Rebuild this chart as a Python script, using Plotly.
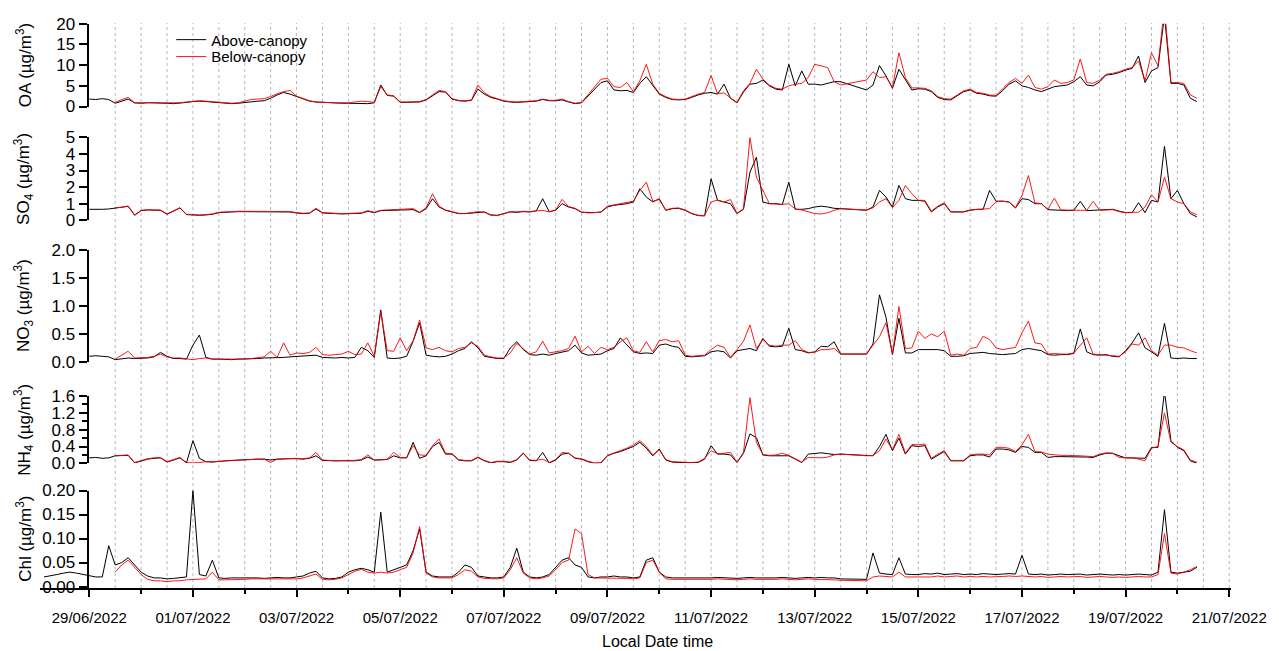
import pandas as pd
import plotly.graph_objects as go

# ---------------------------------------------------------------------------
# 3-hourly aerosol composition, above vs below the canopy
# (29/06/2022 00:00 onwards; None marks the instrument gap on 13/07)
# ---------------------------------------------------------------------------
oa_above = [
    1.8, 1.7, 1.9, 1.7, 0.8, 1.3, 1.8, 0.9,
    0.8, 0.9, 0.9, 0.8, 0.8, 0.7, 0.8, 1.0,
    1.2, 1.3, 1.2, 1.1, 1.0, 0.8, 0.7, 0.8,
    1.0, 1.2, 1.3, 1.4, 2.0, 2.8, 3.4, 3.0,
    2.4, 1.8, 1.3, 1.1, 1.0, 0.9, 0.9, 0.8,
    0.8, 0.8, 0.8, 0.7, 0.9, 5.2, 2.7, 2.5,
    1.0, 1.0, 1.1, 1.1, 1.6, 2.5, 3.6, 3.5,
    1.8, 1.4, 1.3, 1.5, 4.2, 3.0, 2.2, 1.8,
    1.3, 1.1, 1.0, 1.1, 1.2, 1.3, 1.7, 1.4,
    1.4, 1.6, 1.1, 0.7, 0.9, 2.6, 4.2, 5.8,
    6.2, 4.0, 3.8, 3.9, 3.4, 5.6, 7.2, 5.0,
    3.0, 2.2, 1.7, 1.6, 1.7, 2.2, 2.8, 3.2,
    3.4, 3.0, 5.4, 2.0, 0.9, 3.5, 5.4, 5.6,
    6.4, 5.0, 4.2, 4.0, 10.2, 5.0, 8.6, 5.4,
    5.4, 5.2, 5.6, 6.0, 6.0, None, None, None,
    4.0, 5.2, 9.9, 7.4, 4.4, 9.0, 6.5, 4.0,
    4.3, 4.2, 3.6, 2.2, 1.7, 1.6, 2.6, 3.6,
    4.0, 3.2, 3.0, 2.6, 2.5, 3.8, 5.4, 6.2,
    5.0, 4.6, 4.0, 3.6, 4.2, 4.8, 5.0, 5.2,
    6.0, 7.2, 5.2, 5.0, 6.0, 7.6, 7.8, 8.2,
    8.8, 9.2, 12.2, 5.8, 8.6, 9.4, 22.0, 5.6,
    5.6, 5.2, 2.0, 1.2,
]
oa_below = [
    None, None, None, None, 1.0, 1.7, 2.2, 0.9,
    0.9, 1.0, 1.0, 0.9, 0.9, 0.8, 0.9, 1.1,
    1.3, 1.4, 1.3, 1.2, 1.0, 0.9, 0.8, 0.9,
    1.3, 1.7, 1.8, 1.9, 2.4, 3.1, 3.6, 3.9,
    2.5, 1.9, 1.4, 1.1, 1.0, 0.9, 0.9, 0.9,
    0.9, 1.1, 1.3, 1.2, 1.0, 4.8, 2.8, 2.6,
    1.1, 1.1, 1.2, 1.2, 1.7, 2.7, 3.9, 3.6,
    1.9, 1.5, 1.4, 1.6, 5.2, 3.3, 2.4, 1.9,
    1.4, 1.2, 1.1, 1.2, 1.3, 1.4, 1.8, 1.5,
    1.5, 1.8, 1.2, 0.8, 1.0, 2.9, 4.6, 6.6,
    6.8, 4.8, 4.6, 5.8, 3.6, 6.2, 10.2, 5.4,
    3.2, 2.4, 1.8, 1.7, 1.8, 2.4, 3.0, 3.4,
    7.5, 3.1, 3.3, 2.1, 1.0, 3.8, 5.6, 9.0,
    6.6, 5.2, 4.4, 4.2, 5.0, 5.4, 5.6, 7.0,
    10.2, 9.8, 9.4, 6.0, 5.2, None, None, None,
    6.4, 8.4, 7.0, 7.2, 4.6, 13.0, 7.0, 4.5,
    4.5, 4.4, 3.8, 2.4, 1.9, 1.8, 2.8, 3.8,
    4.2, 3.4, 3.2, 2.8, 2.7, 4.2, 5.8, 6.8,
    5.6, 7.6, 4.6, 4.2, 4.8, 6.4, 5.6, 5.8,
    6.4, 11.5, 5.8, 5.6, 6.4, 7.8, 8.0, 8.4,
    9.0, 9.4, 11.0, 6.2, 13.0, 9.8, 24.0, 5.8,
    5.8, 5.6, 2.8, 2.0,
]

so4_above = [
    0.66, 0.64, 0.66, 0.68, 0.74, 0.76, 0.84, 0.30,
    0.58, 0.62, 0.60, 0.60, 0.36, 0.54, 0.74, 0.34,
    0.30, 0.30, 0.32, 0.36, 0.46, 0.50, 0.50, 0.52,
    0.52, 0.50, 0.50, 0.52, 0.50, 0.48, 0.50, 0.50,
    0.44, 0.40, 0.42, 0.68, 0.44, 0.40, 0.40, 0.38,
    0.38, 0.40, 0.42, 0.54, 0.46, 0.58, 0.60, 0.62,
    0.60, 0.62, 0.64, 0.46, 0.70, 1.30, 0.80, 0.60,
    0.50, 0.40, 0.40, 0.44, 0.50, 0.50, 0.32, 0.30,
    0.40, 0.50, 0.48, 0.52, 0.50, 0.56, 1.30, 0.52,
    0.60, 1.00, 0.80, 0.70, 0.48, 0.46, 0.46, 0.50,
    0.80, 0.90, 0.95, 1.00, 1.10, 1.90, 1.40, 1.10,
    1.30, 0.60, 0.70, 0.72, 0.60, 0.40, 0.28, 0.26,
    2.50, 1.20, 1.10, 1.00, 0.40, 0.66, 2.90, 3.80,
    1.10, 1.00, 1.00, 0.95, 2.30, 0.66, 0.66, 0.70,
    0.80, 0.85, 0.80, 0.72, 0.70, None, None, None,
    0.60, 0.80, 1.80, 1.40, 0.80, 2.10, 1.30, 1.20,
    1.20, 1.15, 0.50, 0.80, 1.00, 0.50, 0.50, 0.50,
    0.60, 0.66, 0.66, 1.80, 1.15, 1.15, 1.10, 0.74,
    1.30, 1.25, 1.00, 1.00, 0.64, 0.60, 0.60, 0.58,
    0.60, 1.14, 0.58, 0.60, 0.62, 0.66, 0.66, 0.55,
    0.46, 0.46, 1.06, 0.46, 1.20, 1.10, 4.46, 1.30,
    1.80, 1.00, 0.40, 0.20,
]
so4_below = [
    None, None, None, None, 0.76, 0.78, 0.86, 0.32,
    0.60, 0.64, 0.62, 0.62, 0.38, 0.56, 0.76, 0.36,
    0.32, 0.32, 0.34, 0.38, 0.48, 0.52, 0.52, 0.54,
    0.54, 0.52, 0.52, 0.54, 0.52, 0.50, 0.54, 0.52,
    0.46, 0.42, 0.44, 0.72, 0.46, 0.42, 0.42, 0.40,
    0.40, 0.42, 0.44, 0.58, 0.48, 0.60, 0.62, 0.64,
    0.62, 0.64, 0.70, 0.48, 0.75, 1.60, 0.85, 0.62,
    0.52, 0.42, 0.40, 0.46, 0.52, 0.48, 0.30, 0.28,
    0.42, 0.52, 0.50, 0.54, 0.52, 0.58, 0.60, 0.50,
    0.62, 1.26, 0.82, 0.72, 0.50, 0.44, 0.44, 0.48,
    0.85, 0.92, 0.98, 1.05, 1.15, 1.80, 2.30, 1.15,
    1.25, 0.62, 0.72, 0.74, 0.62, 0.42, 0.30, 0.28,
    1.10, 1.22, 1.10, 1.25, 0.42, 0.70, 5.00, 2.60,
    1.80, 1.00, 0.98, 0.95, 1.00, 0.68, 0.62, 0.50,
    0.40, 0.38, 0.45, 0.60, 0.70, None, None, None,
    0.62, 0.75, 1.10, 1.30, 0.76, 1.20, 2.10, 1.60,
    1.20, 1.20, 0.55, 0.85, 1.05, 0.52, 0.50, 0.52,
    0.62, 0.66, 0.68, 0.70, 1.12, 1.15, 1.10, 0.76,
    1.50, 2.70, 1.05, 1.00, 0.66, 1.34, 0.62, 0.60,
    0.60, 0.60, 0.60, 1.14, 0.60, 0.64, 0.64, 0.52,
    0.46, 0.48, 0.48, 0.80, 1.54, 1.10, 2.60, 1.30,
    1.10, 1.00, 0.50, 0.34,
]

no3_above = [
    0.10, 0.11, 0.10, 0.09, 0.04, 0.06, 0.07, 0.06,
    0.06, 0.07, 0.09, 0.17, 0.10, 0.06, 0.06, 0.05,
    0.30, 0.48, 0.08, 0.05, 0.05, 0.04, 0.04, 0.05,
    0.05, 0.05, 0.06, 0.07, 0.07, 0.07, 0.08, 0.09,
    0.10, 0.11, 0.11, 0.12, 0.08, 0.07, 0.07, 0.08,
    0.07, 0.08, 0.26, 0.20, 0.08, 0.93, 0.07, 0.06,
    0.07, 0.10, 0.37, 0.70, 0.12, 0.10, 0.09, 0.10,
    0.14, 0.20, 0.24, 0.36, 0.25, 0.10, 0.08, 0.06,
    0.06, 0.25, 0.36, 0.22, 0.13, 0.12, 0.14, 0.12,
    0.15, 0.18, 0.20, 0.30, 0.16, 0.12, 0.13, 0.14,
    0.20, 0.24, 0.43, 0.30, 0.18, 0.15, 0.16, 0.15,
    0.30, 0.32, 0.28, 0.26, 0.10, 0.09, 0.10, 0.11,
    0.18, 0.20, 0.18, 0.07, 0.20, 0.22, 0.24, 0.20,
    0.42, 0.28, 0.27, 0.28, 0.60, 0.22, 0.20, 0.16,
    0.18, 0.28, 0.27, 0.36, 0.14, None, None, None,
    0.14, 0.32, 1.20, 0.80, 0.13, 0.78, 0.16, 0.16,
    0.22, 0.22, 0.23, 0.22, 0.20, 0.10, 0.10, 0.11,
    0.15, 0.16, 0.17, 0.15, 0.14, 0.13, 0.14, 0.15,
    0.22, 0.24, 0.22, 0.20, 0.13, 0.12, 0.13, 0.13,
    0.15, 0.59, 0.18, 0.13, 0.12, 0.13, 0.10, 0.09,
    0.20, 0.34, 0.52, 0.25, 0.18, 0.10, 0.69, 0.07,
    0.06, 0.07, 0.06, 0.06,
]
no3_below = [
    None, None, None, None, 0.05, 0.12, 0.19, 0.07,
    0.07, 0.08, 0.10, 0.14, 0.09, 0.07, 0.07, 0.06,
    0.04, 0.06, 0.07, 0.05, 0.05, 0.04, 0.05, 0.05,
    0.05, 0.06, 0.07, 0.09, 0.19, 0.08, 0.34, 0.12,
    0.16, 0.15, 0.17, 0.26, 0.13, 0.12, 0.13, 0.14,
    0.19, 0.13, 0.14, 0.34, 0.10, 0.90, 0.20, 0.19,
    0.43, 0.20, 0.38, 0.75, 0.25, 0.22, 0.26, 0.20,
    0.18, 0.24, 0.26, 0.34, 0.28, 0.12, 0.09, 0.07,
    0.07, 0.16, 0.33, 0.24, 0.14, 0.18, 0.37, 0.16,
    0.18, 0.20, 0.24, 0.46, 0.18, 0.28, 0.15, 0.26,
    0.22, 0.26, 0.36, 0.43, 0.20, 0.17, 0.36, 0.18,
    0.38, 0.40, 0.36, 0.38, 0.12, 0.10, 0.11, 0.12,
    0.22, 0.30, 0.26, 0.08, 0.22, 0.37, 0.66, 0.24,
    0.40, 0.30, 0.28, 0.30, 0.30, 0.38, 0.22, 0.17,
    0.17, 0.22, 0.22, 0.24, 0.14, None, None, None,
    0.14, 0.30, 0.45, 0.70, 0.14, 0.99, 0.24, 0.25,
    0.55, 0.42, 0.50, 0.45, 0.55, 0.12, 0.14, 0.12,
    0.24, 0.26, 0.46, 0.40, 0.25, 0.22, 0.24, 0.26,
    0.52, 0.73, 0.34, 0.32, 0.14, 0.15, 0.14, 0.14,
    0.16, 0.30, 0.43, 0.14, 0.13, 0.12, 0.11, 0.10,
    0.18, 0.32, 0.30, 0.43, 0.20, 0.12, 0.30, 0.30,
    0.26, 0.25, 0.20, 0.16,
]

nh4_above = [
    0.13, 0.14, 0.12, 0.13, 0.18, 0.18, 0.19, 0.01,
    0.06, 0.10, 0.12, 0.13, 0.03, 0.08, 0.13, 0.01,
    0.54, 0.12, 0.04, 0.03, 0.05, 0.06, 0.07, 0.08,
    0.08, 0.09, 0.10, 0.10, 0.08, 0.10, 0.11, 0.11,
    0.11, 0.10, 0.12, 0.18, 0.07, 0.06, 0.06, 0.06,
    0.06, 0.06, 0.08, 0.15, 0.08, 0.08, 0.09, 0.18,
    0.13, 0.13, 0.50, 0.12, 0.18, 0.40, 0.50, 0.22,
    0.22, 0.08, 0.06, 0.06, 0.14, 0.06, 0.01, 0.04,
    0.04, 0.02, 0.08, 0.24, 0.07, 0.06, 0.26, 0.01,
    0.08, 0.22, 0.24, 0.12, 0.10, 0.04, 0.00, 0.01,
    0.18, 0.24, 0.28, 0.34, 0.40, 0.50, 0.36, 0.18,
    0.34, 0.08, 0.03, 0.02, 0.02, 0.01, 0.02, 0.10,
    0.42, 0.22, 0.22, 0.20, 0.02, 0.24, 0.70, 0.61,
    0.20, 0.18, 0.18, 0.17, 0.18, 0.10, 0.02, 0.22,
    0.24, 0.25, 0.23, 0.21, 0.22, None, None, None,
    0.18, 0.18, 0.40, 0.69, 0.30, 0.60, 0.22, 0.42,
    0.40, 0.42, 0.10, 0.20, 0.28, 0.06, 0.06, 0.06,
    0.18, 0.20, 0.20, 0.15, 0.34, 0.34, 0.32, 0.26,
    0.40, 0.38, 0.26, 0.26, 0.14, 0.16, 0.16, 0.16,
    0.16, 0.15, 0.15, 0.14, 0.20, 0.24, 0.24, 0.18,
    0.13, 0.13, 0.12, 0.12, 0.38, 0.38, 1.70, 0.54,
    0.38, 0.30, 0.06, 0.00,
]
nh4_below = [
    None, None, None, None, 0.18, 0.19, 0.20, 0.02,
    0.07, 0.11, 0.13, 0.14, 0.04, 0.09, 0.14, 0.02,
    0.01, 0.02, 0.04, 0.04, 0.05, 0.06, 0.07, 0.08,
    0.08, 0.09, 0.10, 0.10, 0.02, 0.10, 0.11, 0.12,
    0.12, 0.11, 0.13, 0.26, 0.08, 0.07, 0.06, 0.07,
    0.07, 0.07, 0.09, 0.20, 0.08, 0.08, 0.10, 0.26,
    0.14, 0.14, 0.42, 0.20, 0.19, 0.42, 0.58, 0.24,
    0.23, 0.09, 0.07, 0.07, 0.15, 0.07, 0.02, 0.05,
    0.05, 0.03, 0.09, 0.25, 0.08, 0.07, 0.10, 0.02,
    0.09, 0.26, 0.24, 0.13, 0.11, 0.05, 0.01, 0.02,
    0.19, 0.25, 0.30, 0.36, 0.44, 0.54, 0.40, 0.20,
    0.32, 0.09, 0.04, 0.03, 0.03, 0.02, 0.03, 0.12,
    0.30, 0.23, 0.24, 0.26, 0.03, 0.26, 1.56, 0.50,
    0.21, 0.19, 0.20, 0.24, 0.19, 0.11, 0.03, 0.14,
    0.14, 0.13, 0.15, 0.20, 0.22, None, None, None,
    0.18, 0.19, 0.30, 0.58, 0.32, 0.69, 0.24, 0.45,
    0.44, 0.46, 0.12, 0.22, 0.30, 0.07, 0.07, 0.07,
    0.20, 0.22, 0.22, 0.20, 0.38, 0.38, 0.36, 0.28,
    0.44, 0.69, 0.28, 0.27, 0.22, 0.20, 0.19, 0.19,
    0.19, 0.18, 0.17, 0.16, 0.22, 0.25, 0.24, 0.14,
    0.13, 0.13, 0.10, 0.06, 0.36, 0.40, 1.20, 0.50,
    0.40, 0.32, 0.08, 0.03,
]

# Chl record starts earlier (28/06 03:00)
chl_above = [
    0.020, 0.022, 0.025, 0.028, 0.030, 0.028, 0.025,
    0.022, 0.020, 0.020, 0.085, 0.045, 0.050, 0.060, 0.045,
    0.030, 0.022, 0.018, 0.018, 0.016, 0.017, 0.018, 0.020,
    0.200, 0.025, 0.022, 0.055, 0.018, 0.017, 0.018, 0.018,
    0.018, 0.019, 0.018, 0.017, 0.018, 0.019, 0.018, 0.018,
    0.020, 0.022, 0.028, 0.032, 0.018, 0.016, 0.017, 0.020,
    0.030, 0.035, 0.038, 0.035, 0.030, 0.155, 0.030, 0.035,
    0.040, 0.045, 0.075, 0.120, 0.030, 0.022, 0.020, 0.020,
    0.020, 0.030, 0.045, 0.040, 0.022, 0.020, 0.018, 0.018,
    0.020, 0.040, 0.080, 0.030, 0.020, 0.018, 0.020, 0.025,
    0.040, 0.055, 0.060, 0.045, 0.040, 0.020, 0.018, 0.020,
    0.020, 0.022, 0.020, 0.020, 0.018, 0.020, 0.055, 0.060,
    0.030, 0.020, 0.018, 0.018, 0.017, 0.018, 0.017, 0.018,
    0.018, 0.019, 0.018, 0.018, 0.017, 0.018, 0.019, 0.018,
    0.018, 0.017, 0.018, 0.019, 0.018, 0.017, 0.018, 0.019,
    0.018, 0.019, 0.018, 0.018, 0.016, None, None, None,
    0.015, 0.070, 0.028, 0.026, 0.025, 0.060, 0.026, 0.025,
    0.025, 0.027, 0.026, 0.028, 0.025, 0.026, 0.027, 0.025,
    0.026, 0.025, 0.027, 0.026, 0.025, 0.026, 0.027, 0.026,
    0.065, 0.026, 0.025, 0.026, 0.024, 0.025, 0.026, 0.025,
    0.025, 0.026, 0.024, 0.025, 0.026, 0.025, 0.024, 0.025,
    0.024, 0.025, 0.026, 0.025, 0.024, 0.030, 0.160, 0.030,
    0.028, 0.030, 0.032, 0.040,
]
chl_below = [
    None, None, None, None, None, None, None,
    None, None, None, None, 0.030, 0.045, 0.055, 0.040,
    0.025, 0.015, 0.012, 0.012, 0.010, 0.012, 0.012, 0.014,
    0.015, 0.015, 0.016, 0.030, 0.014, 0.014, 0.014, 0.015,
    0.015, 0.016, 0.016, 0.015, 0.016, 0.016, 0.016, 0.015,
    0.016, 0.018, 0.022, 0.026, 0.015, 0.014, 0.015, 0.018,
    0.025, 0.032, 0.036, 0.030, 0.028, 0.030, 0.028, 0.030,
    0.035, 0.040, 0.070, 0.125, 0.028, 0.020, 0.018, 0.018,
    0.018, 0.025, 0.035, 0.032, 0.020, 0.017, 0.016, 0.016,
    0.018, 0.035, 0.060, 0.028, 0.018, 0.016, 0.018, 0.022,
    0.035, 0.050, 0.055, 0.120, 0.110, 0.025, 0.018, 0.018,
    0.018, 0.018, 0.018, 0.017, 0.016, 0.018, 0.050, 0.055,
    0.030, 0.016, 0.015, 0.015, 0.014, 0.015, 0.015, 0.015,
    0.015, 0.016, 0.015, 0.015, 0.014, 0.015, 0.016, 0.015,
    0.015, 0.014, 0.015, 0.016, 0.015, 0.014, 0.015, 0.016,
    0.015, 0.015, 0.014, 0.014, 0.013, None, None, None,
    0.012, 0.020, 0.022, 0.021, 0.020, 0.030, 0.020, 0.020,
    0.020, 0.021, 0.020, 0.022, 0.020, 0.021, 0.022, 0.020,
    0.021, 0.020, 0.021, 0.020, 0.020, 0.021, 0.022, 0.021,
    0.022, 0.021, 0.020, 0.021, 0.019, 0.020, 0.021, 0.020,
    0.020, 0.021, 0.019, 0.020, 0.021, 0.020, 0.019, 0.020,
    0.019, 0.020, 0.021, 0.020, 0.020, 0.025, 0.110, 0.028,
    0.026, 0.030, 0.035, 0.042,
]

times = pd.date_range("2022-06-29 00:00", periods=len(oa_above), freq="3h")
chl_times = pd.date_range("2022-06-28 03:00", periods=len(chl_above), freq="3h")

FONT = "Liberation Sans, Arial, sans-serif"
BLACK = "#000000"
RED = "#ff0000"

# (axis id, above, below, time base)
panels = [
    ("y", oa_above, oa_below, times),
    ("y2", so4_above, so4_below, times),
    ("y3", no3_above, no3_below, times),
    ("y4", nh4_above, nh4_below, times),
    ("y5", chl_above, chl_below, chl_times),
]

fig = go.Figure()
for i, (yid, above, below, t) in enumerate(panels):
    fig.add_trace(go.Scatter(
        x=t, y=above, mode="lines", name="Above-canopy",
        line=dict(color=BLACK, width=1), connectgaps=True,
        xaxis="x", yaxis=yid, legend="legend", showlegend=(i == 0)))
    fig.add_trace(go.Scatter(
        x=t, y=below, mode="lines", name="Below-canopy",
        line=dict(color=RED, width=1), opacity=0.9, connectgaps=True,
        xaxis="x", yaxis=yid, legend="legend2", showlegend=(i == 0)))

# pixel geometry of the plotting area
L, R, T, B = 40, 1238, 18, 588
H = B - T
AXIS_X = (88 - L) / (R - L)


def dom(y_zero, y_top):
    return [(B - y_zero) / H, (B - y_top) / H]


yaxis_common = dict(
    anchor="free", position=AXIS_X, showline=True, linewidth=2.2, linecolor=BLACK,
    ticks="outside", ticklen=8, tickwidth=2, tickcolor=BLACK,
    showgrid=False, zeroline=False, tickfont=dict(family=FONT, size=17, color=BLACK),
)

fig.update_layout(
    yaxis=dict(domain=dom(104, 20.7), range=[0, 20], tickvals=[0, 5, 10, 15, 20], **yaxis_common),
    yaxis2=dict(domain=dom(218.3, 135), range=[0, 5], tickvals=[0, 1, 2, 3, 4, 5], **yaxis_common),
    yaxis3=dict(domain=dom(360.7, 248.3), range=[0, 2], tickvals=[0, 0.5, 1.0, 1.5, 2.0],
                tickformat=".1f", **yaxis_common),
    yaxis4=dict(domain=dom(462.7, 395), range=[0, 1.6], tickvals=[0, 0.4, 0.8, 1.2, 1.6],
                tickformat=".1f",
                minor=dict(tickvals=[0.2, 0.6, 1.0, 1.4], ticklen=5, tickwidth=2, tickcolor=BLACK,
                           ticks="outside", showgrid=False),
                **yaxis_common),
    yaxis5=dict(domain=[0, (B - 490) / H], range=[-0.003, 0.2],
                tickvals=[0, 0.05, 0.10, 0.15, 0.20], tickformat=".2f", **yaxis_common),
)

label_days = pd.date_range("2022-06-29", "2022-07-21", freq="2D")
fig.update_layout(
    xaxis=dict(
        domain=[0, 1], anchor="y5", type="date",
        range=["2022-06-28 01:10", "2022-07-21 00:49"],
        showline=True, linewidth=2.2, linecolor=BLACK,
        ticks="outside", ticklen=7, tickwidth=2, tickcolor=BLACK,
        tickvals=list(label_days), ticktext=[d.strftime("%d/%m/%Y") for d in label_days],
        ticklabelstandoff=8,
        tickfont=dict(family=FONT, size=15, color=BLACK),
        minor=dict(tickvals=list(pd.date_range("2022-06-30", "2022-07-20", freq="2D")),
                   ticks="outside", ticklen=4, tickwidth=1.5, tickcolor=BLACK, showgrid=False),
        showgrid=False, zeroline=False,
    )
)

# dotted half-day grid spanning all panels
for g in pd.date_range("2022-06-29 12:00", "2022-07-21 00:00", freq="12h"):
    fig.add_shape(type="line", xref="x", yref="paper", x0=g, x1=g, y0=0, y1=(B - 20) / H,
                  line=dict(color="#b8b8b8", width=1, dash="dot"), layer="below")

# panel titles
titles = [
    ("OA (µg/m<sup>3</sup>)", (104 + 20.7) / 2),
    ("SO<sub>4</sub> (µg/m<sup>3</sup>)", (218.3 + 135) / 2),
    ("NO<sub>3</sub> (µg/m<sup>3</sup>)", (360.7 + 248.3) / 2),
    ("NH<sub>4</sub> (µg/m<sup>3</sup>)", (462.7 + 395) / 2),
    ("Chl (µg/m<sup>3</sup>)", (587 + 490) / 2),
]
for text, yc in titles:
    fig.add_annotation(text=text, xref="paper", yref="paper",
                       x=(24 - L) / (R - L), y=(B - yc) / H, textangle=-90,
                       showarrow=False, xanchor="center", yanchor="middle",
                       font=dict(family=FONT, size=17, color=BLACK))

fig.add_annotation(text="Local Date time", xref="paper", yref="paper",
                   x=(661 - L) / (R - L), y=(B - 642) / H, showarrow=False,
                   xanchor="center", yanchor="middle",
                   font=dict(family=FONT, size=16, color=BLACK))

legend_common = dict(x=(172 - L) / (R - L), xanchor="left", yanchor="middle",
                     bgcolor="rgba(0,0,0,0)", borderwidth=0, itemwidth=30,
                     font=dict(family=FONT, size=15, color=BLACK))
fig.update_layout(
    width=1279, height=651,
    margin=dict(l=L, r=1279 - R, t=T, b=651 - B),
    paper_bgcolor="white", plot_bgcolor="white",
    showlegend=True,
    legend=dict(y=(B - 37) / H, **legend_common),
    legend2=dict(y=(B - 54) / H, **legend_common),
)

fig.write_html("out.html")
